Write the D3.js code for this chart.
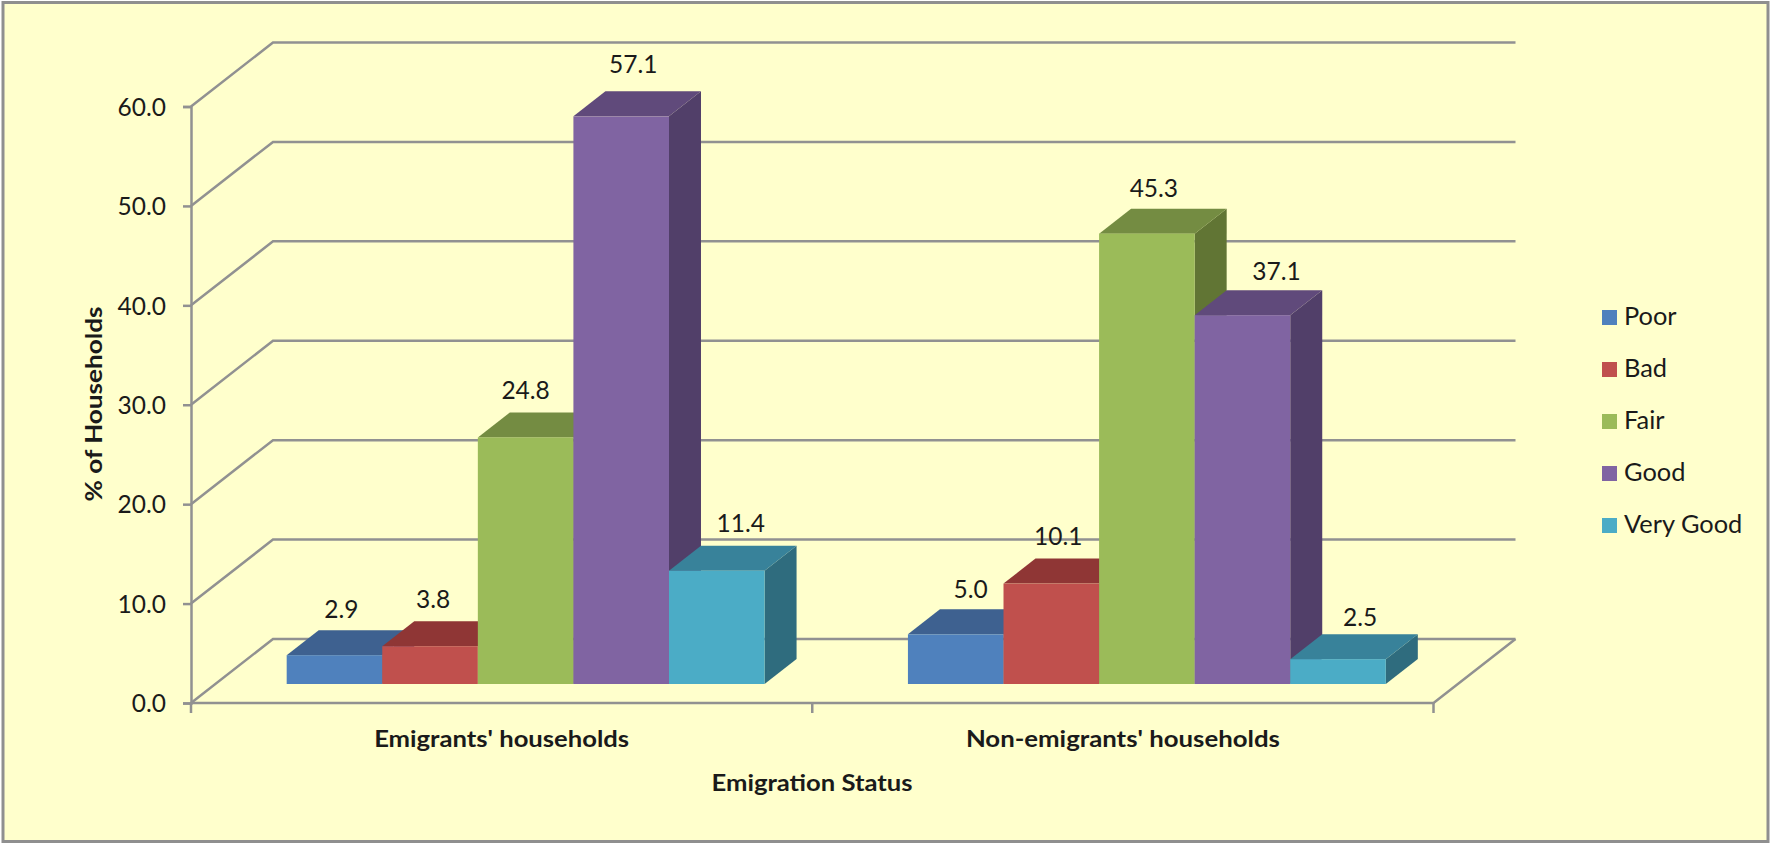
<!DOCTYPE html>
<html><head><meta charset="utf-8">
<script src="https://cdn.jsdelivr.net/npm/d3@7"></script>
<style>html,body{margin:0;padding:0;background:#fff}svg{display:block}text{font-family:Lato,sans-serif;fill:#1a1a1a}</style>
</head><body><svg id="c" width="1771" height="844"></svg>
<script>
const categories = ["Emigrants' households", "Non-emigrants' households"];
const seriesNames = ["Poor", "Bad", "Fair", "Good", "Very Good"];
const emigrants = [2.9, 3.8, 24.8, 57.1, 11.4];
const nonEmigrants = [5.0, 10.1, 45.3, 37.1, 2.5];
const yTicks = [0, 10, 20, 30, 40, 50, 60];
const frontColors = ["#4F81BD", "#C0504D", "#9BBB59", "#8064A2", "#4BACC6"];
const topColors = ["#3E6190", "#8F3635", "#748C42", "#604A7B", "#38829A"];
const sideColors = ["#33507A", "#7A2E2C", "#617534", "#513F69", "#2F6C7E"];
const labelNudgeX = [[7,3,0,12,24],[15,7,7,34,22]];
const labelNudgeY = [[12,13,13,18,14],[11,14,12,10,8]];

const values = [emigrants, nonEmigrants];
const svg = d3.select("#c");
const W = 1771, H = 844;
const x0 = 191, x1 = 1433.5, yBase = 703, yTop = 106.5;
const wallDx = 82, wallDy = 64;
const barDx = 32, barDy = 25, floorInDx = 24, floorInDy = 19;

svg.append("rect").attr("x",3).attr("y",2.5).attr("width",W-6).attr("height",H-5)
  .attr("fill","#FFFFCC").attr("stroke","#8f8f8f").attr("stroke-width",3);

const y = d3.scaleLinear().domain([0,60]).range([yBase,yTop]);
const x = d3.scaleBand().domain(categories).range([x0,x1]);
const inner = d3.scaleBand().domain(d3.range(seriesNames.length)).range([0,x.bandwidth()]).paddingOuter(0.75).paddingInner(0);
const gridC = "#919191", gridW = 2.5;

// gridlines: side wall and back wall
const grid = svg.append("g").attr("fill","none").attr("stroke",gridC).attr("stroke-width",gridW);
const line = d3.line();
grid.selectAll("path").data(yTicks).join("path")
  .attr("d", v => line([[x0,y(v)],[x0+wallDx,y(v)-wallDy],[x1+wallDx,y(v)-wallDy]]));
grid.append("path").attr("d", line([[x1+wallDx,yBase-wallDy],[x1,yBase],[x0,yBase]]));

// y axis
const yAxis = d3.axisLeft(y).tickValues(yTicks).tickFormat(d3.format(".1f")).tickSize(8).tickPadding(17);
const gy = svg.append("g").attr("transform",`translate(${x0},0)`).call(yAxis);
gy.selectAll("path,line").attr("stroke",gridC).attr("stroke-width",gridW);
gy.selectAll("text").attr("font-size",24.5).attr("font-family","Lato").attr("fill","#1a1a1a").attr("dy","0.36em");

// x axis
const xAxis = d3.axisBottom(x).tickSize(0).tickPadding(27);
const gx = svg.append("g").attr("transform",`translate(0,${yBase})`).call(xAxis);
gx.select("path").remove();
gx.selectAll("text").attr("font-size",23.5).attr("font-weight",700).attr("font-family","Lato").attr("fill","#111")
  .attr("textLength",(d,i)=>i?314:255).attr("lengthAdjust","spacingAndGlyphs");
const edges = [x0, x0+x.step(), x1];
svg.append("g").selectAll("line").data(edges).join("line")
  .attr("x1",d=>d).attr("x2",d=>d).attr("y1",yBase).attr("y2",yBase+10)
  .attr("stroke",gridC).attr("stroke-width",gridW);

// bars
const bars = svg.append("g");
const labels = svg.append("g");
categories.forEach((c,ci) => {
  values[ci].forEach((v,si) => {
    const l = x(c)+inner(si)+floorInDx, r = l+inner.bandwidth();
    const b = yBase-floorInDy, t = y(v)-floorInDy;
    const g = bars.append("g");
    g.append("path").attr("fill",sideColors[si]).attr("d",line([[r,b],[r+barDx,b-barDy],[r+barDx,t-barDy],[r,t]])+"Z");
    g.append("path").attr("fill",topColors[si]).attr("d",line([[l,t],[l+barDx,t-barDy],[r+barDx,t-barDy],[r,t]])+"Z");
    g.append("rect").attr("x",l).attr("y",t).attr("width",r-l).attr("height",b-t).attr("fill",frontColors[si]);
    labels.append("text").attr("x",(l+r)/2+labelNudgeX[ci][si]).attr("y",t-barDy-labelNudgeY[ci][si])
      .attr("text-anchor","middle").attr("font-size",24.5).text(v.toFixed(1));
  });
});

// axis titles
svg.append("text").attr("x",812).attr("y",791).attr("text-anchor","middle").attr("font-size",23.5).attr("font-weight",700).attr("fill","#111")
  .attr("textLength",201).attr("lengthAdjust","spacingAndGlyphs").text("Emigration Status");
svg.append("text").attr("transform","translate(102,404) rotate(-90)").attr("text-anchor","middle").attr("font-size",23.5).attr("font-weight",700).attr("fill","#111")
  .attr("textLength",195).attr("lengthAdjust","spacingAndGlyphs").text("% of Households");

// legend
const leg = svg.append("g").selectAll("g").data(seriesNames).join("g")
  .attr("transform",(d,i)=>`translate(1602,${310+i*52})`);
leg.append("rect").attr("width",15).attr("height",15).attr("fill",(d,i)=>frontColors[i]);
leg.append("text").attr("x",22).attr("y",15).attr("font-size",25.4).text(d=>d);
</script></body></html>
